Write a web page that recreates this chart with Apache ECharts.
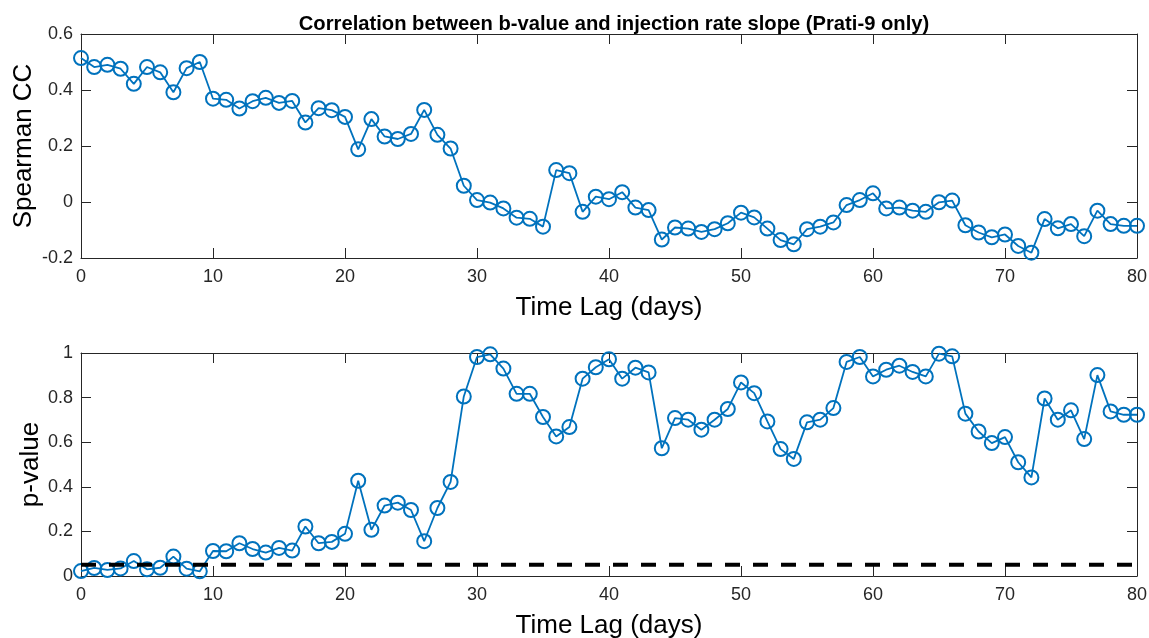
<!DOCTYPE html>
<html><head><meta charset="utf-8">
<script src="https://cdn.jsdelivr.net/npm/echarts@6/dist/echarts.min.js"></script>
<style>html,body{margin:0;padding:0;background:#fff}#c{width:1149px;height:638px}</style>
</head><body><div id="c"></div>
<script>
const lags = Array.from({length:81},(_,i)=>i);
const spearmanCC = [0.514,0.482,0.490,0.476,0.422,0.482,0.463,0.392,0.478,0.500,
0.369,0.365,0.334,0.360,0.372,0.354,0.361,0.284,0.335,0.328,
0.304,0.188,0.296,0.234,0.225,0.243,0.329,0.240,0.191,0.058,
0.007,-0.002,-0.023,-0.056,-0.060,-0.088,0.114,0.103,-0.035,0.019,
0.010,0.035,-0.020,-0.029,-0.134,-0.091,-0.095,-0.107,-0.097,-0.076,
-0.038,-0.055,-0.095,-0.136,-0.151,-0.097,-0.088,-0.073,-0.011,0.007,
0.031,-0.023,-0.020,-0.031,-0.035,-0.001,0.005,-0.083,-0.109,-0.126,
-0.116,-0.157,-0.181,-0.061,-0.094,-0.079,-0.122,-0.031,-0.079,-0.085,-0.085];
const pValue = [0.022,0.036,0.027,0.034,0.067,0.030,0.037,0.087,0.033,0.021,
0.112,0.111,0.147,0.121,0.105,0.126,0.114,0.222,0.147,0.153,
0.189,0.427,0.207,0.316,0.329,0.296,0.156,0.305,0.422,0.805,
0.982,0.994,0.930,0.817,0.817,0.713,0.626,0.668,0.885,0.936,
0.972,0.885,0.934,0.913,0.573,0.708,0.701,0.656,0.701,0.749,
0.868,0.820,0.693,0.569,0.525,0.689,0.701,0.753,0.960,0.982,
0.895,0.925,0.943,0.915,0.895,0.997,0.985,0.728,0.648,0.596,
0.623,0.510,0.442,0.796,0.701,0.743,0.614,0.901,0.738,0.723,0.723];
const alphaLevel = 0.05;
const xTicks = [0,10,20,30,40,50,60,70,80];
const topYTicks = [-0.2,0,0.2,0.4,0.6];
const botYTicks = [0,0.2,0.4,0.6,0.8,1];
const titleText = 'Correlation between b-value and injection rate slope (Prati-9 only)';

const FONT = 'Liberation Sans, Arial, sans-serif';
const AX = '#262626';
const BLUE = '#0072BD';

function fmt(v){ return (Math.round(v*10)/10).toString(); }

function xAx(gi, withLabels, nameText){
  return {
    type:'value', gridIndex:gi, min:xTicks[0], max:xTicks[xTicks.length-1], interval:10,
    position: withLabels ? 'bottom' : 'top',
    name: withLabels ? nameText : '', nameLocation:'middle', nameGap:37, nameMoveOverlap:false,
    nameTextStyle:{fontFamily:FONT, fontSize:26, color:'#000'},
    axisLine:{show:true, onZero:false, lineStyle:{color:AX, width:1}},
    axisTick:{show:true, inside:true, length:10, lineStyle:{color:AX}},
    axisLabel:{show:withLabels, fontFamily:FONT, fontSize:18, color:AX, margin:10, formatter:v=>String(v)},
    splitLine:{show:false}
  };
}
function yAx(gi, left, min, max, nameText, gap){
  return {
    type:'value', gridIndex:gi, min:min, max:max, interval:0.2,
    position: left ? 'left' : 'right',
    name: left ? nameText : '', nameLocation:'middle', nameGap:gap, nameRotate:90, nameMoveOverlap:false,
    nameTextStyle:{fontFamily:FONT, fontSize:26, color:'#000'},
    axisLine:{show:true, onZero:false, lineStyle:{color:AX, width:1}},
    axisTick:{show:true, inside:true, length:10, lineStyle:{color:AX}},
    axisLabel:{show:left, fontFamily:FONT, fontSize:18, color:AX, margin:8, formatter:fmt},
    splitLine:{show:false}
  };
}

const markerStyle = {color:'rgba(0,0,0,0)', borderColor:BLUE, borderWidth:2};

const chart = echarts.init(document.getElementById('c'), null, {renderer:'canvas'});
chart.setOption({
  animation:false,
  backgroundColor:'#fff',
  title:{text:titleText, left:609, textAlign:'center', top:9,
    textStyle:{fontFamily:FONT, fontSize:20.2, fontWeight:'bold', color:'#000'}},
  grid:[
    {left:81, right:12, top:34, height:224, containLabel:false, outerBoundsMode:'none'},
    {left:81, right:12, top:353, height:223, containLabel:false, outerBoundsMode:'none'}
  ],
  xAxis:[ xAx(0,true,'Time Lag (days)'), xAx(0,false,''), xAx(1,true,'Time Lag (days)'), xAx(1,false,'') ],
  yAxis:[ yAx(0,true,topYTicks[0],topYTicks[topYTicks.length-1],'Spearman CC',44),
          yAx(0,false,topYTicks[0],topYTicks[topYTicks.length-1],'',0),
          yAx(1,true,botYTicks[0],botYTicks[botYTicks.length-1],'p-value',37),
          yAx(1,false,botYTicks[0],botYTicks[botYTicks.length-1],'',0) ],
  series:[
    {type:'line', xAxisIndex:0, yAxisIndex:0, data:lags.map((x,i)=>[x,spearmanCC[i]]),
      symbol:'circle', symbolSize:14, showAllSymbol:true,
      lineStyle:{color:BLUE, width:1.8}, itemStyle:markerStyle},
    {type:'line', xAxisIndex:2, yAxisIndex:2, data:lags.map((x,i)=>[x,pValue[i]]),
      symbol:'circle', symbolSize:14, showAllSymbol:true,
      lineStyle:{color:BLUE, width:1.8}, itemStyle:markerStyle, z:2},
    {type:'line', xAxisIndex:2, yAxisIndex:2, data:[[xTicks[0],alphaLevel],[xTicks[xTicks.length-1],alphaLevel]],
      symbol:'none', lineStyle:{color:'#000', width:4, type:[15,13]}, z:3}
  ]
});
</script></body></html>
